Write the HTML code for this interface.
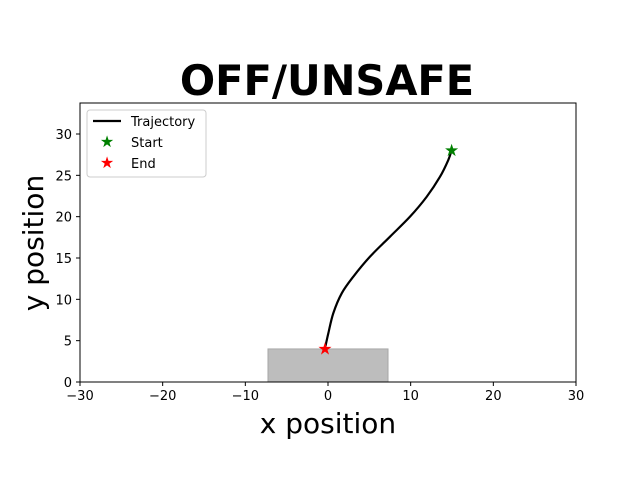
<!DOCTYPE html>
<html><head><meta charset="utf-8"><style>
body{margin:0;background:#fff}
text{font-family:"DejaVu Sans","Liberation Sans",sans-serif}
</style></head><body>
<svg id="chart" width="640" height="480" xmlns="http://www.w3.org/2000/svg">
<rect width="640" height="480" fill="#fff"/>
<text x="327" y="95" text-anchor="middle" font-size="41.5" font-weight="bold">OFF/UNSAFE</text>
<g id="plot"></g>
<text x="328" y="433" text-anchor="middle" font-size="28">x position</text>
<text transform="translate(43,243) rotate(-90)" text-anchor="middle" font-size="28">y position</text>
<g>
<rect x="87" y="110" width="119" height="67" rx="3" fill="#fff" stroke="#ccc"/>
<line x1="93" y1="121" x2="121" y2="121" stroke="#000" stroke-width="2.2"/>
<text x="131" y="126" font-size="13">Trajectory</text>
<text x="107" y="147" font-size="16" fill="green" text-anchor="middle">★</text>
<text x="131" y="147" font-size="13">Start</text>
<text x="107" y="168" font-size="16" fill="red" text-anchor="middle">★</text>
<text x="131" y="168" font-size="13">End</text>
</g>
</svg>
<script>
const xTicks=[-30,-20,-10,0,10,20,30];
const yTicks=[0,5,10,15,20,25,30];
const trajX=[14.96,14.55,13.55,11.94,9.92,7.50,5.08,3.06,1.66,0.64,0.04,-0.36];
const trajY=[28.06,26.85,24.83,22.41,20.0,17.58,15.16,12.74,10.73,8.32,5.89,4.08];
const unsafeX=[-7.26,7.26];
const unsafeY=[0,4];
const L=80,R=576,T=103,B=382,xMin=-30,xMax=30,yMin=0,yMax=33.75;
const sx=v=>L+(v-xMin)/(xMax-xMin)*(R-L);
const sy=v=>B-(v-yMin)/(yMax-yMin)*(B-T);
const NS='http://www.w3.org/2000/svg';
const g=document.getElementById('plot');
function mk(tag,attrs){const e=document.createElementNS(NS,tag);for(const k in attrs)e.setAttribute(k,attrs[k]);g.appendChild(e);return e;}
let r=mk('rect',{x:sx(unsafeX[0]),y:sy(unsafeY[1]),width:sx(unsafeX[1])-sx(unsafeX[0]),height:sy(unsafeY[0])-sy(unsafeY[1]),fill:'#bdbdbd',stroke:'#a8a8a8'});


const P=trajX.map((x,i)=>[sx(x),sy(trajY[i])]);
let d='M'+P[0][0]+','+P[0][1];
for(let i=0;i<P.length-1;i++){const p0=P[Math.max(i-1,0)],p1=P[i],p2=P[i+1],p3=P[Math.min(i+2,P.length-1)];
d+=' C'+(p1[0]+(p2[0]-p0[0])/6)+','+(p1[1]+(p2[1]-p0[1])/6)+' '+(p2[0]-(p3[0]-p1[0])/6)+','+(p2[1]-(p3[1]-p1[1])/6)+' '+p2[0]+','+p2[1];}
let p=mk('path',{d:d,fill:'none',stroke:'#000',"stroke-width":2.2,"stroke-linejoin":'round'});


let s=mk('text',{x:sx(trajX[0]),y:sy(trajY[0])+6,"font-size":17,fill:'green',"text-anchor":'middle'});s.textContent='★';


let n=trajX.length-1;
let e=mk('text',{x:sx(trajX[n]),y:sy(trajY[n])+6,"font-size":17,fill:'red',"text-anchor":'middle'});e.textContent='★';


let f=mk('rect',{x:L,y:T,width:R-L,height:B-T,fill:'none',stroke:'#000',"stroke-width":1});


xTicks.forEach(v=>{let l=mk('line',{x1:sx(v),x2:sx(v),y1:B,y2:B+4,stroke:'#000'});


let t=mk('text',{x:sx(v),y:B+18,"font-size":13,"text-anchor":'middle'});t.textContent=v<0?'\u2212'+(-v):v;

});
yTicks.forEach(v=>{let l=mk('line',{x1:L-4,x2:L,y1:sy(v),y2:sy(v),stroke:'#000'});


let t=mk('text',{x:L-8,y:sy(v)+5,"font-size":13,"text-anchor":'end'});t.textContent=v;

});
</script>
</body></html>
